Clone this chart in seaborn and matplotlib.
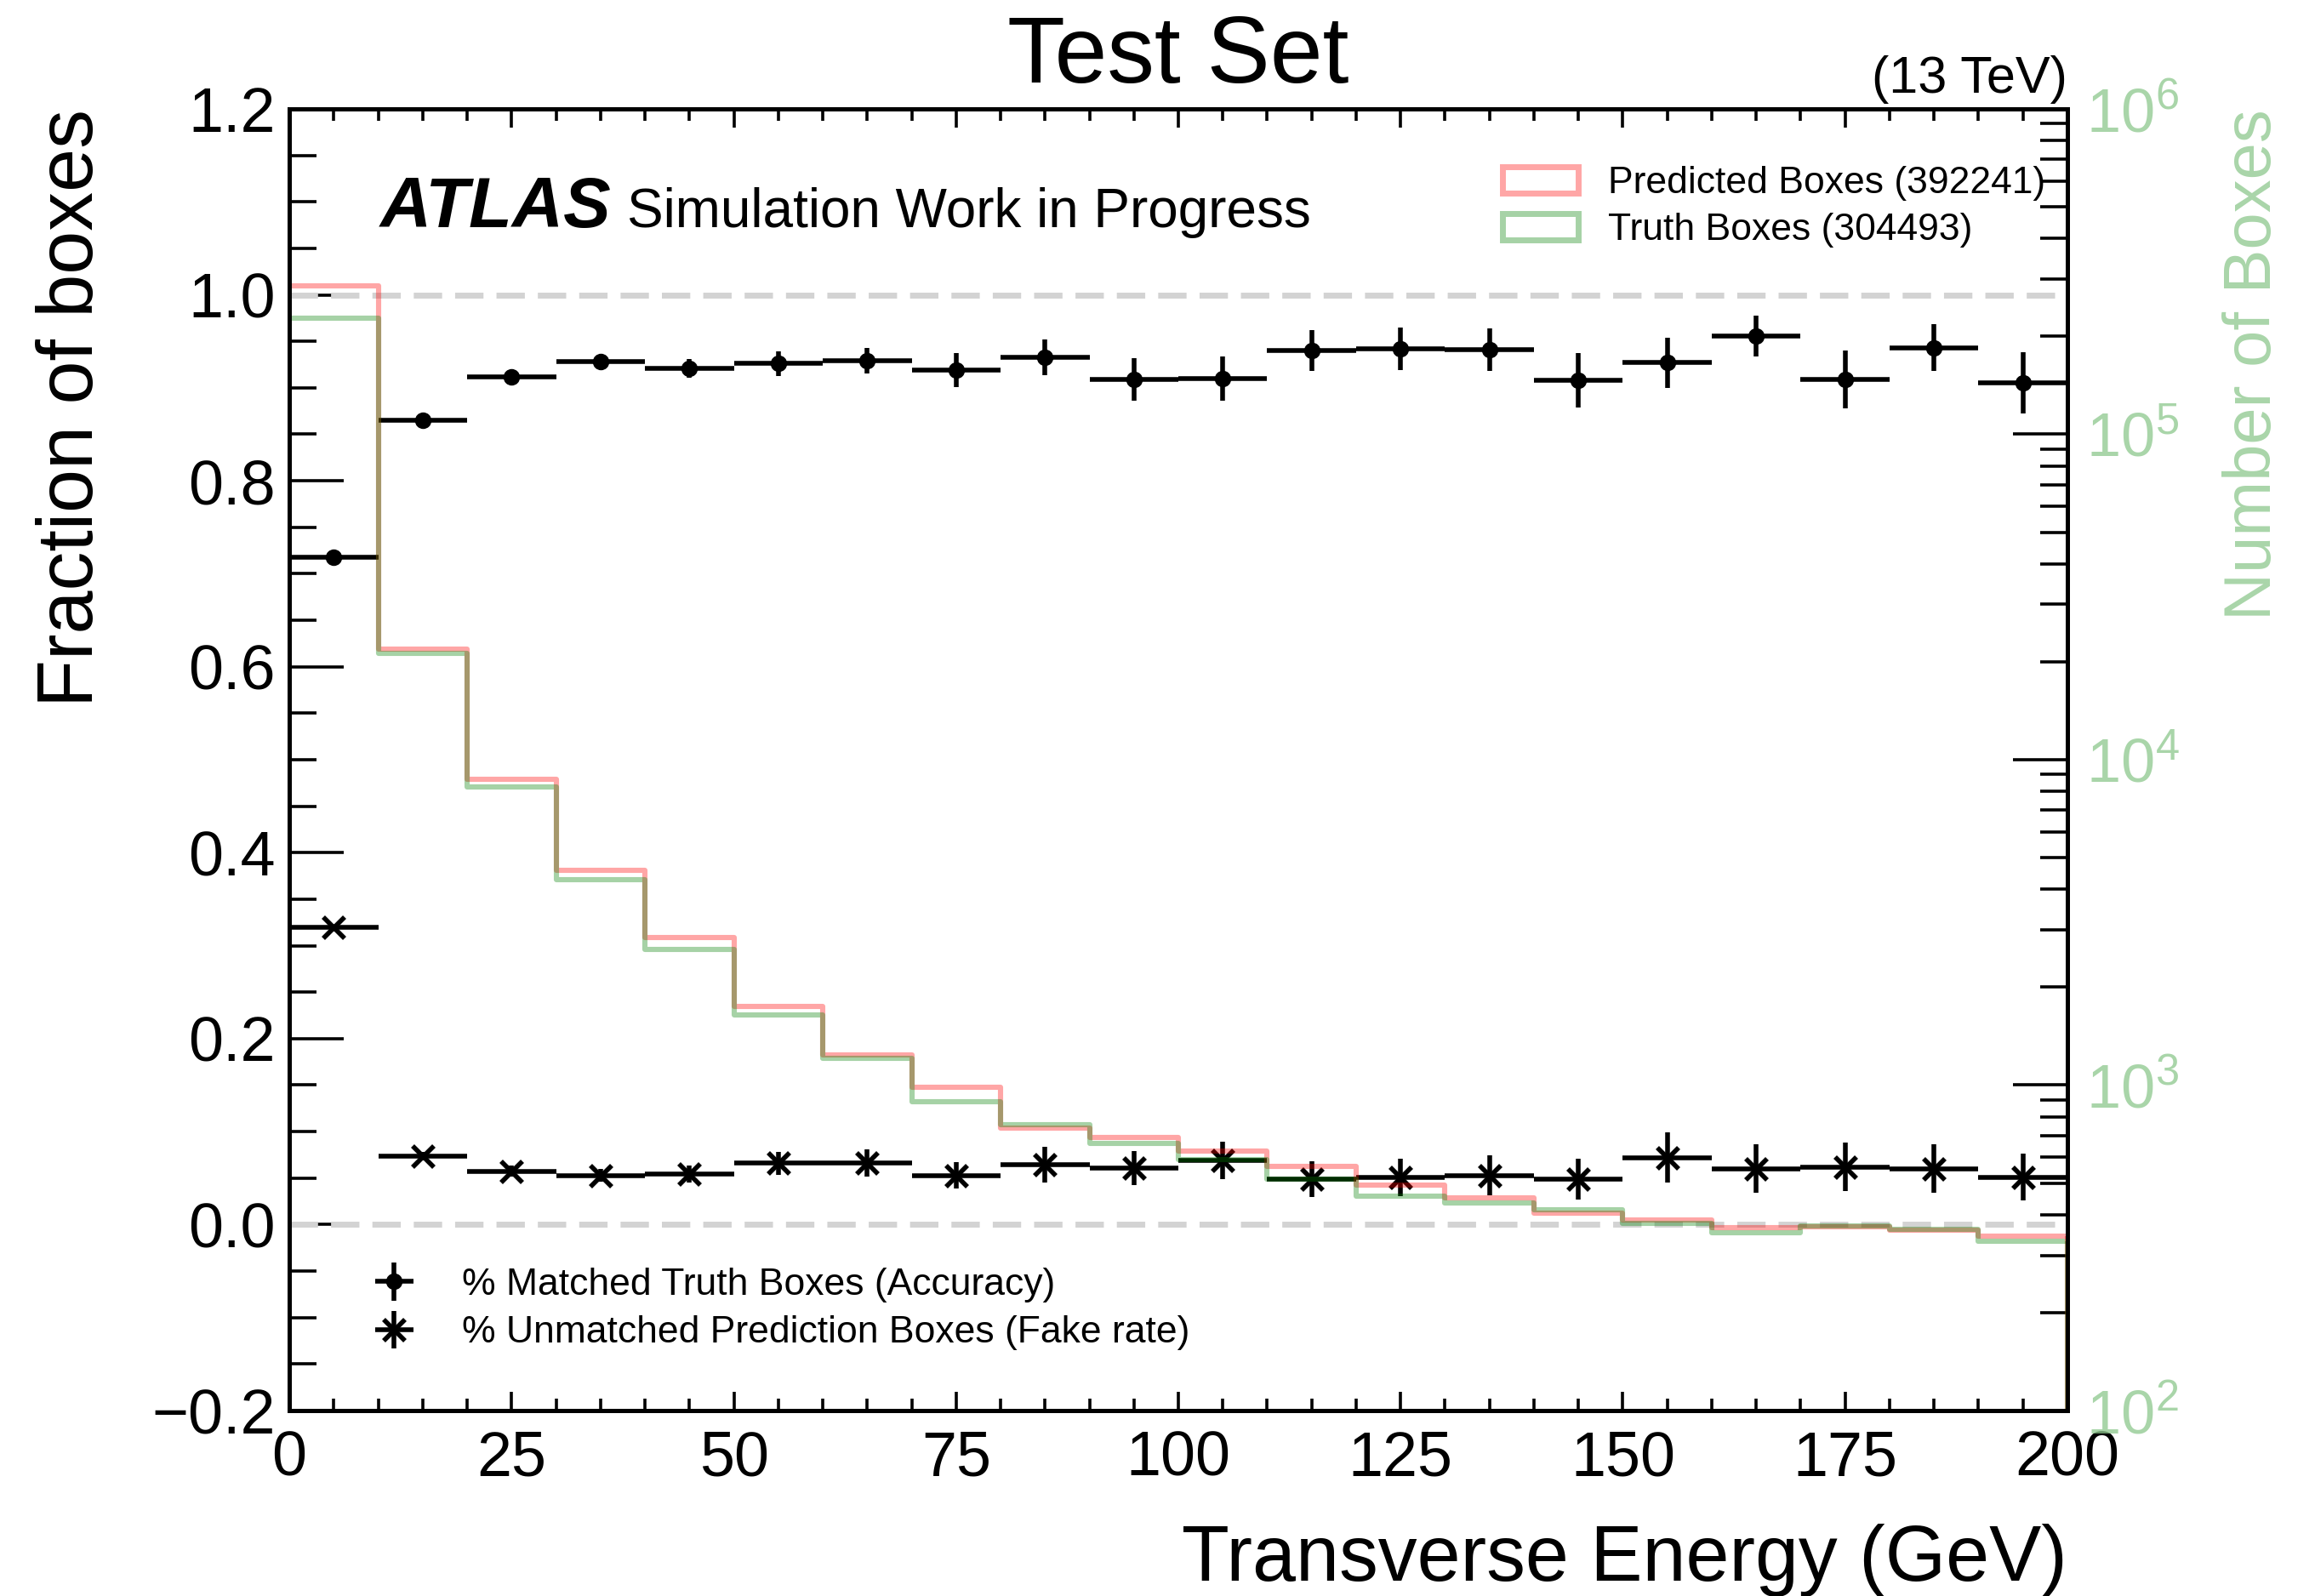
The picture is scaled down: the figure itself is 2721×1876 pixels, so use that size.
import numpy as np
import pandas as pd
import seaborn as sns
import matplotlib.pyplot as plt
from matplotlib.patches import Patch
from matplotlib.ticker import MultipleLocator, LogLocator, NullFormatter

# transverse energy binning (GeV)
bin_edges = np.arange(0, 210, 10)
bin_centres = (bin_edges[:-1] + bin_edges[1:]) / 2
bin_halfwidth = np.diff(bin_edges) / 2

accuracy = [0.718, 0.865, 0.912, 0.928, 0.921, 0.926, 0.929, 0.919, 0.933, 0.909,
            0.910, 0.940, 0.942, 0.941, 0.908, 0.927, 0.956, 0.909, 0.943, 0.905]
accuracy_err = [0.002, 0.003, 0.004, 0.005, 0.010, 0.013, 0.014, 0.018, 0.019, 0.023,
                0.024, 0.022, 0.023, 0.023, 0.029, 0.027, 0.022, 0.031, 0.025, 0.033]
fake_rate = [0.320, 0.0736, 0.0575, 0.053, 0.0545, 0.066, 0.066, 0.053, 0.0645, 0.061,
             0.069, 0.0487, 0.0505, 0.053, 0.0487, 0.072, 0.060, 0.062, 0.060, 0.051]
fake_rate_err = [0.002, 0.005, 0.006, 0.007, 0.009, 0.0125, 0.0145, 0.0145, 0.019, 0.0185,
                 0.020, 0.019, 0.020, 0.0215, 0.022, 0.027, 0.026, 0.026, 0.026, 0.025]

n_predicted = [285200, 21840, 8730, 4560, 2850, 1745, 1240, 987, 739, 689,
               627, 562, 493, 450, 403, 384, 364, 366, 358, 344]
n_truth = [227000, 21170, 8265, 4280, 2615, 1640, 1210, 890, 757, 662,
           590, 513, 457, 435, 413, 375, 351, 369, 361, 332]
total_predicted = 392241
total_truth = 304493

sns.set_theme(style="ticks")
plt.rcParams['font.family'] = ['Liberation Sans', 'DejaVu Sans']
plt.rcParams['mathtext.fontset'] = 'custom'
plt.rcParams['mathtext.rm'] = 'Liberation Sans'
plt.rcParams['axes.linewidth'] = 1.8
for key in ('text.color', 'axes.labelcolor', 'xtick.color', 'ytick.color', 'axes.edgecolor'):
    plt.rcParams[key] = 'black'

fig = plt.figure(figsize=(13.605, 9.38), dpi=200)
ax = fig.add_axes([0.125, 0.1162, 0.768, 0.8156])
ax2 = ax.twinx()

# reference lines
dash = (0, (4.8, 2.2))
ax.axhline(0.0, color='lightgrey', lw=2.5, ls=dash, zorder=1)
ax.axhline(1.0, color='lightgrey', lw=2.5, ls=dash, zorder=1)

ax.errorbar(bin_centres, accuracy, xerr=bin_halfwidth, yerr=accuracy_err, fmt='o',
            color='black', ms=6, lw=2, label='% Matched Truth Boxes (Accuracy)', zorder=3)
ax.errorbar(bin_centres, fake_rate, xerr=bin_halfwidth, yerr=fake_rate_err, fmt='x',
            color='black', ms=9, mew=2, lw=2,
            label='% Unmatched Prediction Boxes (Fake rate)', zorder=3)

pred_df = pd.DataFrame({'Et': bin_centres, 'n': n_predicted})
truth_df = pd.DataFrame({'Et': bin_centres, 'n': n_truth})
hist_range = (float(bin_edges[0]), float(bin_edges[-1]))
sns.histplot(data=pred_df, x='Et', weights='n', binwidth=10, binrange=hist_range,
             element='step', fill=False, color='red', alpha=0.35, lw=2.2,
             log_scale=(False, True), ax=ax2)
sns.histplot(data=truth_df, x='Et', weights='n', binwidth=10, binrange=hist_range,
             element='step', fill=False, color='green', alpha=0.35, lw=2.2,
             log_scale=(False, True), ax=ax2)
ax2.vlines(bin_edges[-1], 1e2, n_predicted[-1], color='red', alpha=0.35, lw=2.2)
ax2.vlines(bin_edges[-1], 1e2, n_truth[-1], color='green', alpha=0.35, lw=2.2)

ax.set_xlim(0, 200)
ax.set_ylim(-0.2, 1.2)
ax2.set_ylim(1e2, 1e6)
ax2.set_xlim(0, 200)

ax.xaxis.set_major_locator(MultipleLocator(25))
ax.xaxis.set_minor_locator(MultipleLocator(5))
ax.yaxis.set_major_locator(MultipleLocator(0.2))
ax.yaxis.set_minor_locator(MultipleLocator(0.05))
ax2.yaxis.set_major_locator(LogLocator(base=10))
ax2.yaxis.set_minor_locator(LogLocator(base=10, subs=np.arange(2, 10)))
ax2.yaxis.set_minor_formatter(NullFormatter())

ax.tick_params(axis='x', which='major', direction='in', length=8, width=1.3,
               top=True, labelsize=26.5, pad=8)
ax.tick_params(axis='x', which='minor', direction='in', length=5, width=1.3, top=True)
ax.tick_params(axis='y', which='major', direction='in', length=23, width=1.3,
               right=False, labelsize=26.5, pad=6)
ax.tick_params(axis='y', which='minor', direction='in', length=11.5, width=1.3, right=False)
green_txt = (0.55, 0.78, 0.55, 0.75)
ax2.tick_params(axis='y', which='major', direction='in', length=23, width=1.3,
                labelsize=26, labelcolor=green_txt, pad=8)
ax2.tick_params(axis='y', which='minor', direction='in', length=11.5, width=1.3)

ax.set_xlabel('Transverse Energy (GeV)', fontsize=33, loc='right', labelpad=15)
ax.set_ylabel('Fraction of boxes', fontsize=33, loc='top', labelpad=18)
ax2.set_ylabel('Number of Boxes', fontsize=28, loc='top', color=green_txt, labelpad=18)

ax.set_title('Test Set', fontsize=40, pad=11)
ax.text(1.0, 1.004, '(13 TeV)', transform=ax.transAxes, ha='right', va='bottom', fontsize=22)
ax.text(0.051, 0.909, 'ATLAS', transform=ax.transAxes, fontsize=30, weight='bold',
        style='italic', va='baseline')
ax.text(0.19, 0.909, 'Simulation Work in Progress', transform=ax.transAxes, fontsize=23,
        va='baseline')

ax.legend(loc='lower left', bbox_to_anchor=(0.025, 0.02), frameon=False, fontsize=16,
          handlelength=1.4, handletextpad=1.1, labelspacing=0.35)
hist_handles = [Patch(facecolor='none', edgecolor='red', alpha=0.35, lw=2.5),
                Patch(facecolor='none', edgecolor='green', alpha=0.35, lw=2.5)]
ax2.legend(hist_handles, [f'Predicted Boxes ({total_predicted})', f'Truth Boxes ({total_truth})'],
           loc='upper right', bbox_to_anchor=(1.007, 0.982), frameon=False, fontsize=16,
           handlelength=2.0, handletextpad=0.8, labelspacing=0.3)

for a in (ax, ax2):
    for s in a.spines.values():
        s.set_linewidth(1.8)
        s.set_color('black')

fig.savefig('out.png', dpi=200)
